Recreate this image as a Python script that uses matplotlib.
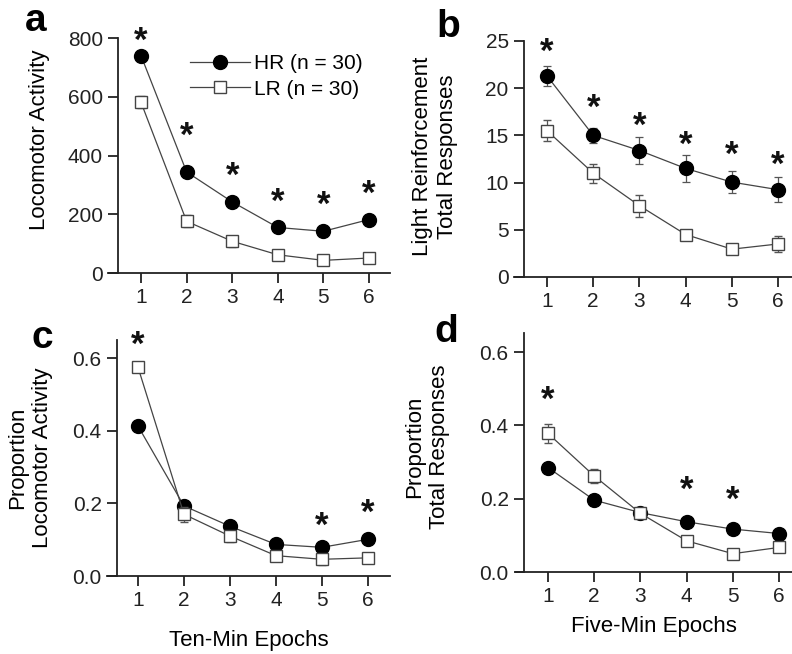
import matplotlib
matplotlib.use("Agg")
import matplotlib.pyplot as plt
from matplotlib.lines import Line2D

plt.rcParams['font.family'] = ['Liberation Sans', 'DejaVu Sans']

epochs = [1, 2, 3, 4, 5, 6]

# Panel a: locomotor activity (ten-min epochs)
a_hr = [740, 344, 242, 155, 142, 182]
a_hr_err = [12, 12, 10, 10, 10, 14]
a_lr = [581, 176, 108, 62, 43, 51]
a_lr_err = [20, 20, 18, 10, 15, 18]
a_stars = [1, 2, 3, 4, 5, 6]
a_star_off = [14, 36, 26, 25, 26, 25]

# Panel b: light reinforcement total responses (five-min epochs)
b_hr = [21.3, 15.0, 13.4, 11.5, 10.05, 9.25]
b_hr_err = [1.1, 0.8, 1.4, 1.4, 1.2, 1.35]
b_lr = [15.5, 11.0, 7.55, 4.5, 2.95, 3.5]
b_lr_err = [1.1, 1.0, 1.15, 0.5, 0.5, 0.85]
b_stars = [1, 2, 3, 4, 5, 6]
b_star_off = [24, 27, 24, 23, 27, 24]

# Panel c: proportion locomotor activity
c_hr = [0.413, 0.193, 0.137, 0.087, 0.079, 0.101]
c_hr_err = [0.008, 0.008, 0.008, 0.006, 0.006, 0.006]
c_lr = [0.575, 0.170, 0.110, 0.056, 0.046, 0.050]
c_lr_err = [0.012, 0.02, 0.015, 0.01, 0.015, 0.01]
c_stars = [1, 5, 6]
c_star_on = ['lr', 'hr', 'hr']
c_star_off = [22, 21, 26]

# Panel d: proportion total responses
d_hr = [0.285, 0.196, 0.162, 0.137, 0.117, 0.105]
d_hr_err = [0.008, 0.008, 0.008, 0.008, 0.008, 0.008]
d_lr = [0.378, 0.262, 0.160, 0.085, 0.050, 0.067]
d_lr_err = [0.025, 0.02, 0.01, 0.012, 0.012, 0.01]
d_stars = [1, 4, 5]
d_star_on = ['lr', 'hr', 'hr']
d_star_off = [33, 31, 29]

series_labels = ['HR (n = 30)', 'LR (n = 30)']

FS = 15
FSL = 16
W, H = 792, 654
fig = plt.figure(figsize=(W / 100, H / 100), dpi=100)

LINE_C = '#444444'
HR_STYLE = dict(marker='o', ms=10, mfc='black', mec='black')
LR_STYLE = dict(marker='s', ms=9, mfc='white', mec='#444444', mew=1.0)


def px_axes(x0, x1, ytop, ybot):
    return fig.add_axes([x0 / W, 1 - ybot / H, (x1 - x0) / W, (ybot - ytop) / H])


def style(ax, xlim, spine_x, ylim, yticks, yfmt):
    ax.set_xlim(*xlim)
    ax.set_ylim(*ylim)
    for s in ['top', 'right']:
        ax.spines[s].set_visible(False)
    ax.spines['left'].set_position(('data', spine_x))
    for s in ['left', 'bottom']:
        ax.spines[s].set_linewidth(1.3)
        ax.spines[s].set_color('#222222')
    ax.set_xticks(epochs)
    ax.set_yticks(yticks)
    ax.set_yticklabels([yfmt.format(v) for v in yticks])
    ax.tick_params(direction='out', length=7, width=1.3, labelsize=FS, colors='#222222', pad=4)
    ax.patch.set_alpha(0)


def draw(ax, hr, hr_err, lr, lr_err):
    ax.errorbar(epochs, hr, yerr=hr_err, color=LINE_C, lw=0.9, ecolor='#555555',
                elinewidth=0.9, capsize=3, capthick=0.9, clip_on=False, zorder=3, **HR_STYLE)
    ax.errorbar(epochs, lr, yerr=lr_err, color=LINE_C, lw=0.9, ecolor='#555555',
                elinewidth=0.9, capsize=3, capthick=0.9, clip_on=False, zorder=4, **LR_STYLE)


def stars(ax, xs, ys, offs):
    for x, y, o in zip(xs, ys, offs):
        ax.annotate('*', (x, y), xytext=(0, o), textcoords='offset pixels',
                    ha='center', va='center', fontsize=25, fontweight='bold',
                    color='#111111', annotation_clip=False)


def ylab(ax, text, x, y):
    ax.set_ylabel(text, fontsize=FSL, linespacing=1.25)
    ax.yaxis.set_label_coords(x, y)


# ---- panel a
axa = px_axes(108, 390, 38, 273)
style(axa, (0.276, 6.46), 0.496, (0, 800), [0, 200, 400, 600, 800], '{:d}')
draw(axa, a_hr, a_hr_err, a_lr, a_lr_err)
stars(axa, a_stars, [a_hr[i - 1] for i in a_stars], a_star_off)
ylab(axa, 'Locomotor Activity', -0.205, 0.566)
handles = [Line2D([], [], color=LINE_C, lw=0.9, **HR_STYLE),
           Line2D([], [], color=LINE_C, lw=0.9, **LR_STYLE)]
axa.legend(handles, series_labels, loc='upper left', bbox_to_anchor=(0.29, 0.93),
           frameon=False, fontsize=FS, handlelength=2.9, handletextpad=0.2,
           labelspacing=0.3, borderaxespad=0, borderpad=0)

# ---- panel b
axb = px_axes(514, 792, 41, 277)
style(axb, (0.286, 6.30), 0.502, (0, 25), [0, 5, 10, 15, 20, 25], '{:d}')
draw(axb, b_hr, b_hr_err, b_lr, b_lr_err)
stars(axb, b_stars, [b_hr[i - 1] for i in b_stars], b_star_off)
ylab(axb, 'Light Reinforcement\nTotal Responses', -0.20, 0.51)

# ---- panel c
axc = px_axes(107, 390, 340, 576)
style(axc, (0.326, 6.48), 0.543, (0, 0.65), [0.0, 0.2, 0.4, 0.6], '{:.1f}')
draw(axc, c_hr, c_hr_err, c_lr, c_lr_err)
stars(axc, c_stars, [(c_lr if s == 'lr' else c_hr)[i - 1] for i, s in zip(c_stars, c_star_on)], c_star_off)
ylab(axc, 'Proportion\nLocomotor Activity', -0.19, 0.5)
axc.set_xlabel('Ten-Min Epochs', fontsize=FSL, labelpad=14)

# ---- panel d
axd = px_axes(516, 792, 333, 572)
style(axd, (0.307, 6.28), 0.48, (0, 0.652), [0.0, 0.2, 0.4, 0.6], '{:.1f}')
draw(axd, d_hr, d_hr_err, d_lr, d_lr_err)
stars(axd, d_stars, [(d_lr if s == 'lr' else d_hr)[i - 1] for i, s in zip(d_stars, d_star_on)], d_star_off)
ylab(axd, 'Proportion\nTotal Responses', -0.24, 0.523)
axd.set_xlabel('Five-Min Epochs', fontsize=FSL, labelpad=7)

# panel letters
for txt, x, y in [('a', 36, 21), ('b', 448, 27), ('c', 42, 338), ('d', 446, 332)]:
    fig.text(x / W, 1 - y / H, txt, fontsize=28, fontweight='bold', ha='center', va='center')

fig.savefig('out.png', dpi=100)
